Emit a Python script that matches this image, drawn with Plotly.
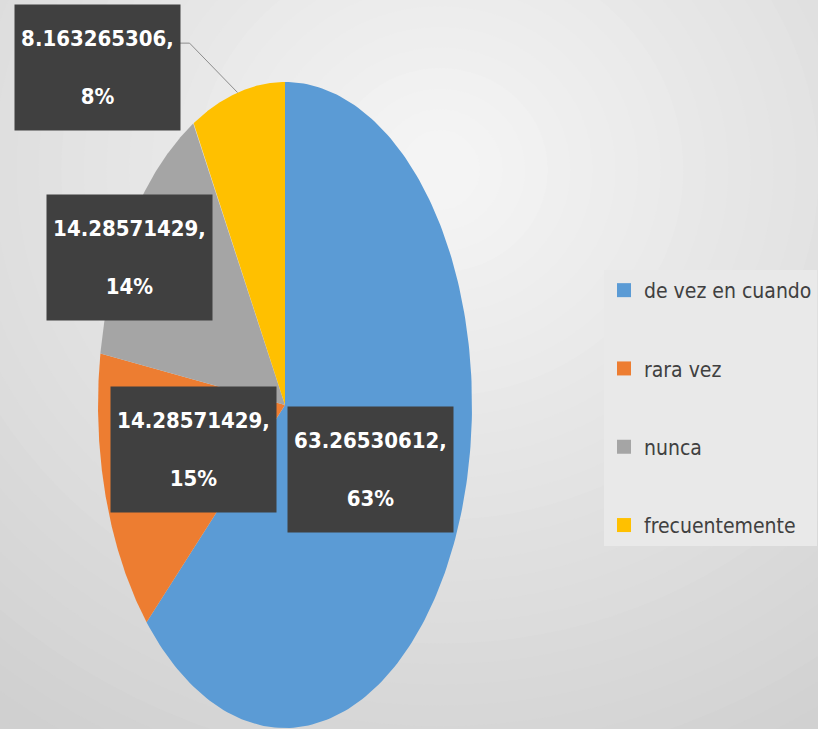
import numpy as np
import plotly.graph_objects as go

categories = ["de vez en cuando", "rara vez", "nunca", "frecuentemente"]
values = [63.26530612, 14.28571429, 14.28571429, 8.163265306]
pct_labels = ["63%", "15%", "14%", "8%"]
colors = ["#5B9BD5", "#ED7D31", "#A5A5A5", "#FFC000"]

# label box centres (data units of the unit pie)
label_pos = [(0.455, -0.201), (-0.492, -0.139), (-0.829, 0.458), (-1.005, 1.046)]

W, H = 818, 729
cx_px, cy_px, rx_px, ry_px = 285, 405, 187, 323
xr = [-cx_px / rx_px, (W - cx_px) / rx_px]
yr = [-(H - cy_px) / ry_px, cy_px / ry_px]

FONT = "DejaVu Sans Condensed, Roboto, sans-serif"

fig = go.Figure()
total = sum(values)
cum = 0.0
mids = []
for cat, v, c in zip(categories, values, colors):
    a0 = 2 * np.pi * cum / total
    a1 = 2 * np.pi * (cum + v) / total
    mids.append((a0 + a1) / 2)
    t = np.linspace(a0, a1, 200)
    xs = np.concatenate([[0], np.sin(t), [0]])
    ys = np.concatenate([[0], np.cos(t), [0]])
    fig.add_trace(go.Scatter(x=xs, y=ys, fill="toself", fillcolor=c, mode="lines",
                             line=dict(width=0, color=c), showlegend=False, hoverinfo="skip"))
    cum += v

for i, (cat, c) in enumerate(zip(categories, colors)):
    fig.add_trace(go.Scatter(x=[None], y=[None], mode="markers", name=cat,
                             marker=dict(symbol="square", size=14, color=c),
                             legendgroup=f"g{i}"))

# background radial gradient
shapes = []
n = 32
for k in range(n):
    f = k / (n - 1)
    g = int(round(208 + (244 - 208) * f))
    rxp = 700 * (1 - f) + 40
    ryp = 640 * (1 - f) + 40
    cxp, cyp = 440, 170
    shapes.append(dict(type="circle", xref="paper", yref="paper", layer="below",
                       x0=(cxp - rxp) / W, x1=(cxp + rxp) / W,
                       y0=1 - (cyp + ryp) / H, y1=1 - (cyp - ryp) / H,
                       fillcolor=f"rgb({g},{g},{g})", line=dict(width=0)))

# leader line for the smallest slice
lx, ly = label_pos[3]
bw, bh = 165 / rx_px, 125 / ry_px
px, py = np.sin(mids[3]), np.cos(mids[3])
sx = lx + bw / 2
sy = ly + (24 / ry_px)
shapes.append(dict(type="path", xref="x", yref="y", layer="above",
                   path=f"M{sx},{sy} L{sx + 10 / rx_px},{sy} L{px},{py}",
                   line=dict(color="#8c8c8c", width=1)))

annotations = []
for i, v in enumerate(values):
    lx, ly = label_pos[i]
    annotations.append(dict(x=lx, y=ly, xref="x", yref="y", showarrow=False,
                            text=f"<b>{v:.10g},</b><br><br><b>{pct_labels[i]}</b>",
                            font=dict(family=FONT, size=22, color="white"),
                            bgcolor="#404040", width=165, height=125, borderpad=0,
                            align="center", valign="middle"))

fig.update_layout(
    width=W, height=H,
    margin=dict(l=0, r=0, t=0, b=0, autoexpand=False),
    paper_bgcolor="#d0d0d0", plot_bgcolor="rgba(0,0,0,0)",
    xaxis=dict(range=xr, visible=False, fixedrange=True),
    yaxis=dict(range=yr, visible=False, fixedrange=True),
    shapes=shapes, annotations=annotations,
    showlegend=True,
    legend=dict(x=604 / W, y=1 - 270 / H, xanchor="left", yanchor="top",
                bgcolor="#e9e9e9", font=dict(family=FONT, size=21, color="#404040"),
                tracegroupgap=48, itemwidth=30),
)

fig.write_html("out.html", config={"displayModeBar": False},
               post_script="document.body.style.margin='0';document.body.style.overflow='hidden';")
